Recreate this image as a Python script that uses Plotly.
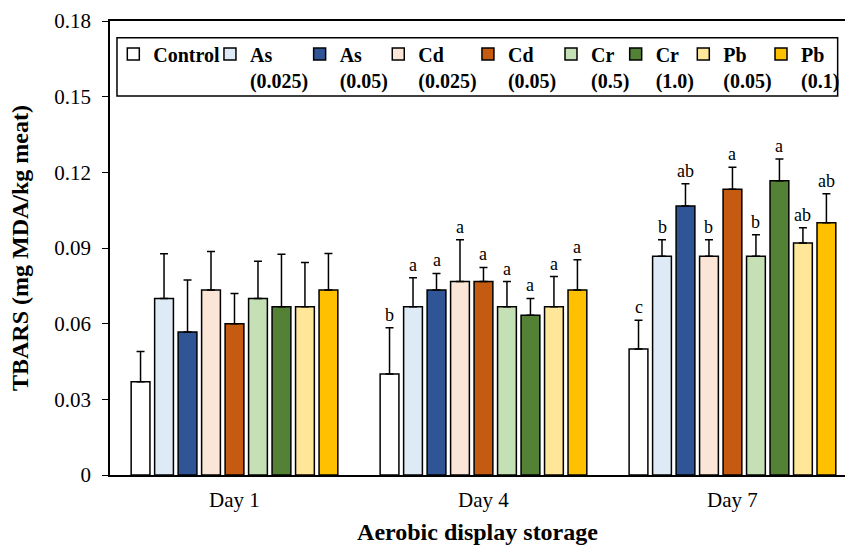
import plotly.graph_objects as go

days = ["Day 1", "Day 4", "Day 7"]
series_names = ["Control", "As<br>(0.025)", "As<br>(0.05)", "Cd<br>(0.025)", "Cd<br>(0.05)",
                "Cr<br>(0.5)", "Cr<br>(1.0)", "Pb<br>(0.05)", "Pb<br>(0.1)"]
colors = ["#FFFFFF", "#DEEBF7", "#2F5597", "#FBE5D6", "#C55A11",
          "#C5E0B4", "#538135", "#FFE699", "#FFC000"]

means = [
    [0.037, 0.040, 0.050],
    [0.070, 0.0667, 0.0867],
    [0.0567, 0.0733, 0.1067],
    [0.0733, 0.0767, 0.0867],
    [0.060, 0.0767, 0.1133],
    [0.070, 0.0667, 0.0867],
    [0.0667, 0.0633, 0.1167],
    [0.0667, 0.0667, 0.092],
    [0.0733, 0.0733, 0.100],
]
sds = [
    [0.012, 0.0184, 0.0114],
    [0.0177, 0.0115, 0.0066],
    [0.0206, 0.0066, 0.0088],
    [0.0153, 0.0166, 0.0066],
    [0.012, 0.0056, 0.0087],
    [0.0147, 0.010, 0.0086],
    [0.0208, 0.0067, 0.0086],
    [0.0176, 0.012, 0.006],
    [0.0145, 0.012, 0.0115],
]
letters = [
    ["", "b", "c"],
    ["", "a", "b"],
    ["", "a", "ab"],
    ["", "a", "b"],
    ["", "a", "a"],
    ["", "a", "b"],
    ["", "a", "a"],
    ["", "a", "ab"],
    ["", "a", "ab"],
]
yticks = [0, 0.03, 0.06, 0.09, 0.12, 0.15, 0.18]
yticklabels = ["0", "0.03", "0.06", "0.09", "0.12", "0.15", "0.18"]

# legend entry anchor positions (paper fraction of plot width)
legend_x = [0.0045, 0.1360, 0.2580, 0.3650, 0.4870, 0.6000, 0.6880, 0.7800, 1.0]
legend_anchor = ["left"] * 8 + ["right"]

FONT = "Liberation Serif, Times New Roman, serif"
BARGAP = 0.151
n = len(series_names)

fig = go.Figure()
for i in range(n):
    lname = "legend" if i == 0 else f"legend{i + 1}"
    fig.add_trace(go.Bar(
        x=days, y=means[i], name=series_names[i],
        marker=dict(color=colors[i], line=dict(color="black", width=1.5)),
        error_y=dict(type="data", array=sds[i], arrayminus=[0] * len(days), symmetric=False,
                     color="black", thickness=1.5, width=4),
        legend=lname, showlegend=True,
    ))

slot = (1 - BARGAP) / n
annotations = []
for i in range(n):
    for j, d in enumerate(days):
        if letters[i][j]:
            annotations.append(dict(
                x=j + (i - (n - 1) / 2) * slot, y=means[i][j] + sds[i][j],
                xref="x", yref="y", text=letters[i][j], showarrow=False,
                yanchor="bottom", yshift=1,
                font=dict(family=FONT, size=18, color="black")))

legend_common = dict(orientation="h", y=0.970, yanchor="top",
                     bgcolor="rgba(0,0,0,0)", borderwidth=0, valign="top",
                     font=dict(family=FONT, size=20, weight="bold", color="black"))
legends = {}
for i in range(n):
    key = "legend" if i == 0 else f"legend{i + 1}"
    legends[key] = dict(legend_common, x=legend_x[i], xanchor=legend_anchor[i])

fig.update_layout(
    width=845, height=547,
    margin=dict(l=110, r=0, t=21, b=72),
    showlegend=True,
    plot_bgcolor="white", paper_bgcolor="white",
    barmode="group", bargap=BARGAP, bargroupgap=0.2,
    font=dict(family=FONT, color="black"),
    annotations=annotations,
    shapes=[dict(type="rect", xref="paper", yref="paper",
                 x0=0.0095, x1=0.99, y0=0.835, y1=0.963,
                 line=dict(color="black", width=1.5), fillcolor="white", layer="below")],
    xaxis=dict(showline=True, linecolor="black", linewidth=1.5, mirror=True,
               ticks="", range=[-0.5, 2.452], ticklabelstandoff=5,
               tickfont=dict(family=FONT, size=21),
               title=dict(text="<b>Aerobic display storage</b>", standoff=12,
                          font=dict(family=FONT, size=24))),
    yaxis=dict(range=[0, 0.18], tickvals=yticks, ticktext=yticklabels,
               showline=True, linecolor="black", linewidth=1.5,
               ticks="outside", ticklen=6, tickcolor="black", showgrid=False,
               zeroline=False, ticklabelstandoff=7,
               tickfont=dict(family=FONT, size=21),
               title=dict(text="<b>TBARS (mg MDA/kg meat)</b>", standoff=19,
                          font=dict(family=FONT, size=24))),
    **legends,
)

fig.write_html("out.html")
